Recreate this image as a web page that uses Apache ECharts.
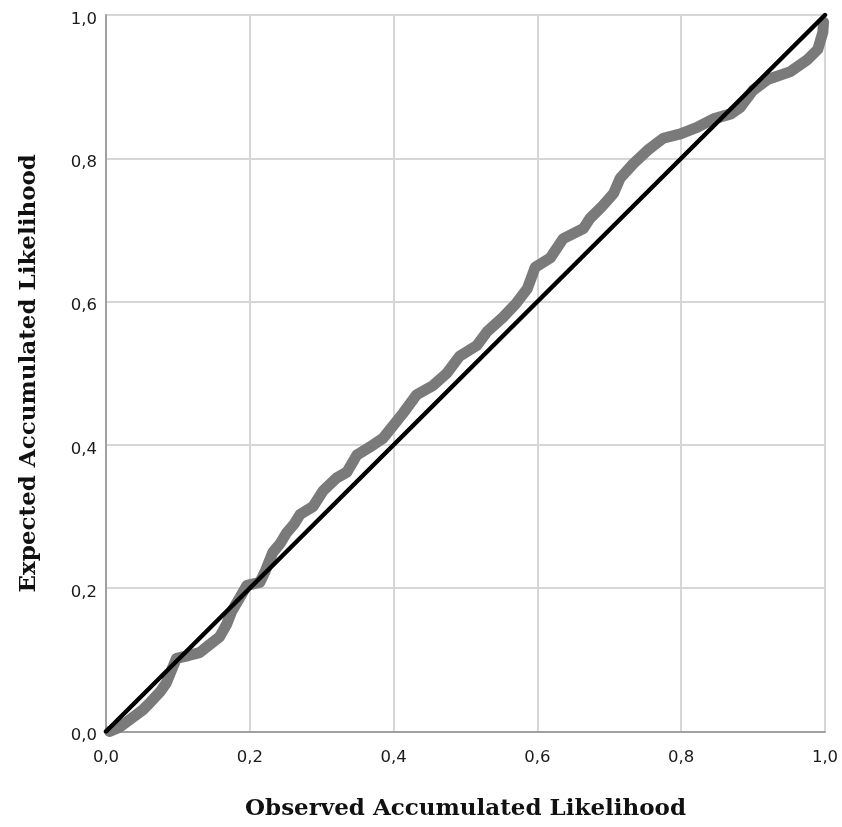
<!DOCTYPE html>
<html>
<head>
<meta charset="utf-8">
<script src="https://cdn.jsdelivr.net/npm/echarts@6/dist/echarts.min.js"></script>
<style>
html,body{margin:0;padding:0;background:#fff;}
#chart{width:842px;height:827px;}
</style>
</head>
<body>
<div id="chart"></div>
<script>
// Observed accumulated likelihood (x) and expected accumulated likelihood (y)
var observed = [0.005,0.019,0.035,0.051,0.061,0.075,0.084,0.093,0.098,0.115,0.130,0.145,0.158,0.168,0.175,0.185,0.196,0.214,0.222,0.232,0.242,0.251,0.262,0.270,0.288,0.302,0.321,0.335,0.349,0.367,0.385,0.397,0.413,0.432,0.455,0.474,0.492,0.516,0.530,0.552,0.570,0.586,0.597,0.618,0.636,0.664,0.673,0.690,0.706,0.715,0.733,0.753,0.775,0.799,0.822,0.845,0.869,0.882,0.900,0.920,0.952,0.976,0.990,0.997,0.998];
var expected = [0.000,0.006,0.018,0.030,0.040,0.055,0.068,0.090,0.102,0.106,0.110,0.122,0.132,0.150,0.168,0.185,0.204,0.208,0.225,0.250,0.262,0.277,0.290,0.303,0.314,0.336,0.354,0.362,0.386,0.397,0.409,0.424,0.444,0.470,0.483,0.500,0.524,0.539,0.558,0.578,0.597,0.618,0.648,0.661,0.688,0.702,0.716,0.733,0.751,0.772,0.792,0.811,0.828,0.834,0.843,0.855,0.862,0.871,0.895,0.910,0.921,0.938,0.952,0.976,0.990];
var refLineX = [0, 1];
var refLineY = [0, 1];
var tickValues = [0, 0.2, 0.4, 0.6, 0.8, 1.0];
var xTitle = 'Observed Accumulated Likelihood';
var yTitle = 'Expected Accumulated Likelihood';

var curve = observed.map(function(v, i){ return [v, expected[i]]; });
var ref = refLineX.map(function(v, i){ return [v, refLineY[i]]; });
function fmt(v){ return v.toFixed(1).replace('.', ','); }

var chart = echarts.init(document.getElementById('chart'), null, {renderer:'canvas'});
var labelStyle = {color:'#1a1a1a', fontFamily:'DejaVu Sans', fontSize:16.5, formatter: fmt};
chart.setOption({
  animation:false,
  backgroundColor:'#fff',
  grid:{left:106, right:17, top:15, bottom:95.5, containLabel:false},
  xAxis:{
    type:'value', min:0, max:1, interval:0.2,
    name:xTitle, nameLocation:'middle', nameGap:66,
    nameTextStyle:{fontFamily:'DejaVu Serif', fontWeight:'bold', fontSize:23, color:'#111'},
    axisLine:{show:true, onZero:false, lineStyle:{color:'#a0a0a0', width:2}},
    axisTick:{show:false},
    axisLabel:Object.assign({margin:18}, labelStyle),
    splitLine:{show:true, lineStyle:{color:'#d6d6d6', width:2}}
  },
  yAxis:{
    type:'value', min:0, max:1, interval:0.2,
    name:yTitle, nameLocation:'middle', nameGap:65,
    nameTextStyle:{fontFamily:'DejaVu Serif', fontWeight:'bold', fontSize:23, color:'#111'},
    axisLine:{show:true, onZero:false, lineStyle:{color:'#a0a0a0', width:2}},
    axisTick:{show:false},
    axisLabel:Object.assign({margin:9, verticalAlign:'top', lineHeight:9}, labelStyle),
    splitLine:{show:true, lineStyle:{color:'#d6d6d6', width:2}}
  },
  series:[
    {type:'line', data:curve, symbol:'none', smooth:false, z:2,
     lineStyle:{color:'#7a7a7a', width:11, cap:'round', join:'round'}},
    {type:'line', data:ref, symbol:'none', z:3,
     lineStyle:{color:'#000', width:4.5, cap:'round'}}
  ]
});
</script>
</body>
</html>
